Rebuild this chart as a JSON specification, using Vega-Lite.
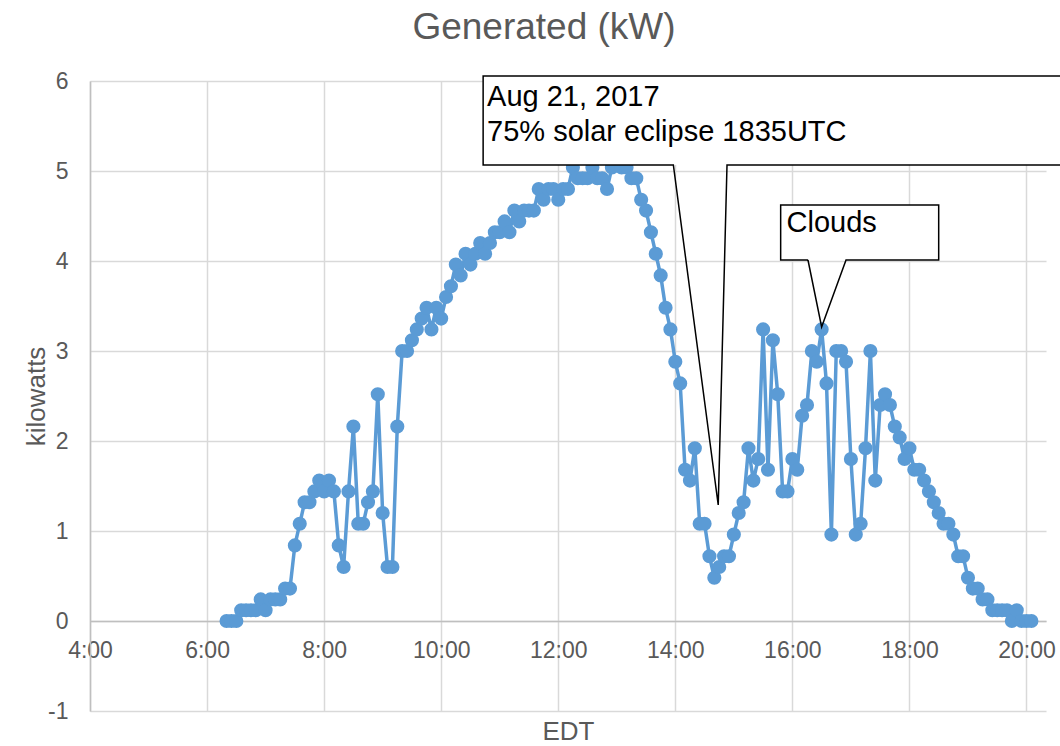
{
  "$schema": "https://vega.github.io/schema/vega-lite/v6.json",
  "width": 956,
  "height": 630,
  "autosize": {"type": "none"},
  "padding": {"left": 90, "top": 81, "right": 14, "bottom": 35},
  "background": "white",
  "config": {"view": {"stroke": null}, "font": "Liberation Sans"},
  "title": {"text": "Generated (kW)", "fontSize": 37, "font": "Liberation Sans", "color": "#595959", "fontWeight": "normal", "anchor": "middle", "frame": "group", "baseline": "alphabetic", "offset": -6, "dx": -24},
  "datasets": {
    "gen": [
      {"t": "2017-08-21T06:20", "kw": 0}, {"t": "2017-08-21T06:25", "kw": 0}, {"t": "2017-08-21T06:30", "kw": 0},
      {"t": "2017-08-21T06:35", "kw": 0.12}, {"t": "2017-08-21T06:40", "kw": 0.12}, {"t": "2017-08-21T06:45", "kw": 0.12},
      {"t": "2017-08-21T06:50", "kw": 0.12}, {"t": "2017-08-21T06:55", "kw": 0.24}, {"t": "2017-08-21T07:00", "kw": 0.12},
      {"t": "2017-08-21T07:05", "kw": 0.24}, {"t": "2017-08-21T07:10", "kw": 0.24}, {"t": "2017-08-21T07:15", "kw": 0.24},
      {"t": "2017-08-21T07:20", "kw": 0.36}, {"t": "2017-08-21T07:25", "kw": 0.36}, {"t": "2017-08-21T07:30", "kw": 0.84},
      {"t": "2017-08-21T07:35", "kw": 1.08}, {"t": "2017-08-21T07:40", "kw": 1.32}, {"t": "2017-08-21T07:45", "kw": 1.32},
      {"t": "2017-08-21T07:50", "kw": 1.44}, {"t": "2017-08-21T07:55", "kw": 1.56}, {"t": "2017-08-21T08:00", "kw": 1.44},
      {"t": "2017-08-21T08:05", "kw": 1.56}, {"t": "2017-08-21T08:10", "kw": 1.44}, {"t": "2017-08-21T08:15", "kw": 0.84},
      {"t": "2017-08-21T08:20", "kw": 0.6}, {"t": "2017-08-21T08:25", "kw": 1.44}, {"t": "2017-08-21T08:30", "kw": 2.16},
      {"t": "2017-08-21T08:35", "kw": 1.08}, {"t": "2017-08-21T08:40", "kw": 1.08}, {"t": "2017-08-21T08:45", "kw": 1.32},
      {"t": "2017-08-21T08:50", "kw": 1.44}, {"t": "2017-08-21T08:55", "kw": 2.52}, {"t": "2017-08-21T09:00", "kw": 1.2},
      {"t": "2017-08-21T09:05", "kw": 0.6}, {"t": "2017-08-21T09:10", "kw": 0.6}, {"t": "2017-08-21T09:15", "kw": 2.16},
      {"t": "2017-08-21T09:20", "kw": 3.0}, {"t": "2017-08-21T09:25", "kw": 3.0}, {"t": "2017-08-21T09:30", "kw": 3.12},
      {"t": "2017-08-21T09:35", "kw": 3.24}, {"t": "2017-08-21T09:40", "kw": 3.36}, {"t": "2017-08-21T09:45", "kw": 3.48},
      {"t": "2017-08-21T09:50", "kw": 3.24}, {"t": "2017-08-21T09:55", "kw": 3.48}, {"t": "2017-08-21T10:00", "kw": 3.36},
      {"t": "2017-08-21T10:05", "kw": 3.6}, {"t": "2017-08-21T10:10", "kw": 3.72}, {"t": "2017-08-21T10:15", "kw": 3.96},
      {"t": "2017-08-21T10:20", "kw": 3.84}, {"t": "2017-08-21T10:25", "kw": 4.08}, {"t": "2017-08-21T10:30", "kw": 3.96},
      {"t": "2017-08-21T10:35", "kw": 4.08}, {"t": "2017-08-21T10:40", "kw": 4.2}, {"t": "2017-08-21T10:45", "kw": 4.08},
      {"t": "2017-08-21T10:50", "kw": 4.2}, {"t": "2017-08-21T10:55", "kw": 4.32}, {"t": "2017-08-21T11:00", "kw": 4.32},
      {"t": "2017-08-21T11:05", "kw": 4.44}, {"t": "2017-08-21T11:10", "kw": 4.32}, {"t": "2017-08-21T11:15", "kw": 4.56},
      {"t": "2017-08-21T11:20", "kw": 4.44}, {"t": "2017-08-21T11:25", "kw": 4.56}, {"t": "2017-08-21T11:30", "kw": 4.56},
      {"t": "2017-08-21T11:35", "kw": 4.56}, {"t": "2017-08-21T11:40", "kw": 4.8}, {"t": "2017-08-21T11:45", "kw": 4.68},
      {"t": "2017-08-21T11:50", "kw": 4.8}, {"t": "2017-08-21T11:55", "kw": 4.8}, {"t": "2017-08-21T12:00", "kw": 4.68},
      {"t": "2017-08-21T12:05", "kw": 4.8}, {"t": "2017-08-21T12:10", "kw": 4.8}, {"t": "2017-08-21T12:15", "kw": 5.04},
      {"t": "2017-08-21T12:20", "kw": 4.92}, {"t": "2017-08-21T12:25", "kw": 4.92}, {"t": "2017-08-21T12:30", "kw": 4.92},
      {"t": "2017-08-21T12:35", "kw": 5.04}, {"t": "2017-08-21T12:40", "kw": 4.92}, {"t": "2017-08-21T12:45", "kw": 4.92},
      {"t": "2017-08-21T12:50", "kw": 4.8}, {"t": "2017-08-21T12:55", "kw": 5.04}, {"t": "2017-08-21T13:00", "kw": 5.16},
      {"t": "2017-08-21T13:05", "kw": 5.04}, {"t": "2017-08-21T13:10", "kw": 5.04}, {"t": "2017-08-21T13:15", "kw": 4.92},
      {"t": "2017-08-21T13:20", "kw": 4.92}, {"t": "2017-08-21T13:25", "kw": 4.68}, {"t": "2017-08-21T13:30", "kw": 4.56},
      {"t": "2017-08-21T13:35", "kw": 4.32}, {"t": "2017-08-21T13:40", "kw": 4.08}, {"t": "2017-08-21T13:45", "kw": 3.84},
      {"t": "2017-08-21T13:50", "kw": 3.48}, {"t": "2017-08-21T13:55", "kw": 3.24}, {"t": "2017-08-21T14:00", "kw": 2.88},
      {"t": "2017-08-21T14:05", "kw": 2.64}, {"t": "2017-08-21T14:10", "kw": 1.68}, {"t": "2017-08-21T14:15", "kw": 1.56},
      {"t": "2017-08-21T14:20", "kw": 1.92}, {"t": "2017-08-21T14:25", "kw": 1.08}, {"t": "2017-08-21T14:30", "kw": 1.08},
      {"t": "2017-08-21T14:35", "kw": 0.72}, {"t": "2017-08-21T14:40", "kw": 0.48}, {"t": "2017-08-21T14:45", "kw": 0.6},
      {"t": "2017-08-21T14:50", "kw": 0.72}, {"t": "2017-08-21T14:55", "kw": 0.72}, {"t": "2017-08-21T15:00", "kw": 0.96},
      {"t": "2017-08-21T15:05", "kw": 1.2}, {"t": "2017-08-21T15:10", "kw": 1.32}, {"t": "2017-08-21T15:15", "kw": 1.92},
      {"t": "2017-08-21T15:20", "kw": 1.56}, {"t": "2017-08-21T15:25", "kw": 1.8}, {"t": "2017-08-21T15:30", "kw": 3.24},
      {"t": "2017-08-21T15:35", "kw": 1.68}, {"t": "2017-08-21T15:40", "kw": 3.12}, {"t": "2017-08-21T15:45", "kw": 2.52},
      {"t": "2017-08-21T15:50", "kw": 1.44}, {"t": "2017-08-21T15:55", "kw": 1.44}, {"t": "2017-08-21T16:00", "kw": 1.8},
      {"t": "2017-08-21T16:05", "kw": 1.68}, {"t": "2017-08-21T16:10", "kw": 2.28}, {"t": "2017-08-21T16:15", "kw": 2.4},
      {"t": "2017-08-21T16:20", "kw": 3.0}, {"t": "2017-08-21T16:25", "kw": 2.88}, {"t": "2017-08-21T16:30", "kw": 3.24},
      {"t": "2017-08-21T16:35", "kw": 2.64}, {"t": "2017-08-21T16:40", "kw": 0.96}, {"t": "2017-08-21T16:45", "kw": 3.0},
      {"t": "2017-08-21T16:50", "kw": 3.0}, {"t": "2017-08-21T16:55", "kw": 2.88}, {"t": "2017-08-21T17:00", "kw": 1.8},
      {"t": "2017-08-21T17:05", "kw": 0.96}, {"t": "2017-08-21T17:10", "kw": 1.08}, {"t": "2017-08-21T17:15", "kw": 1.92},
      {"t": "2017-08-21T17:20", "kw": 3.0}, {"t": "2017-08-21T17:25", "kw": 1.56}, {"t": "2017-08-21T17:30", "kw": 2.4},
      {"t": "2017-08-21T17:35", "kw": 2.52}, {"t": "2017-08-21T17:40", "kw": 2.4}, {"t": "2017-08-21T17:45", "kw": 2.16},
      {"t": "2017-08-21T17:50", "kw": 2.04}, {"t": "2017-08-21T17:55", "kw": 1.8}, {"t": "2017-08-21T18:00", "kw": 1.92},
      {"t": "2017-08-21T18:05", "kw": 1.68}, {"t": "2017-08-21T18:10", "kw": 1.68}, {"t": "2017-08-21T18:15", "kw": 1.56},
      {"t": "2017-08-21T18:20", "kw": 1.44}, {"t": "2017-08-21T18:25", "kw": 1.32}, {"t": "2017-08-21T18:30", "kw": 1.2},
      {"t": "2017-08-21T18:35", "kw": 1.08}, {"t": "2017-08-21T18:40", "kw": 1.08}, {"t": "2017-08-21T18:45", "kw": 0.96},
      {"t": "2017-08-21T18:50", "kw": 0.72}, {"t": "2017-08-21T18:55", "kw": 0.72}, {"t": "2017-08-21T19:00", "kw": 0.48},
      {"t": "2017-08-21T19:05", "kw": 0.36}, {"t": "2017-08-21T19:10", "kw": 0.36}, {"t": "2017-08-21T19:15", "kw": 0.24},
      {"t": "2017-08-21T19:20", "kw": 0.24}, {"t": "2017-08-21T19:25", "kw": 0.12}, {"t": "2017-08-21T19:30", "kw": 0.12},
      {"t": "2017-08-21T19:35", "kw": 0.12}, {"t": "2017-08-21T19:40", "kw": 0.12}, {"t": "2017-08-21T19:45", "kw": 0},
      {"t": "2017-08-21T19:50", "kw": 0.12}, {"t": "2017-08-21T19:55", "kw": 0}, {"t": "2017-08-21T20:00", "kw": 0},
      {"t": "2017-08-21T20:05", "kw": 0}
    ],
    "boxes": [
      {"g": "eclipse", "x1": "2017-08-21T10:43", "x2": "2017-08-21T21:00", "y1": 5.067, "y2": 6.056},
      {"g": "clouds", "x1": "2017-08-21T15:48", "x2": "2017-08-21T18:30", "y1": 4.011, "y2": 4.622}
    ],
    "outlines": [
      {"g": "eclipse", "o": 0, "x": "2017-08-21T21:00", "y": 6.056},
      {"g": "eclipse", "o": 1, "x": "2017-08-21T10:43", "y": 6.056},
      {"g": "eclipse", "o": 2, "x": "2017-08-21T10:43", "y": 5.067},
      {"g": "eclipse", "o": 3, "x": "2017-08-21T13:58", "y": 5.067},
      {"g": "eclipse", "o": 4, "x": "2017-08-21T14:44", "y": 1.289},
      {"g": "eclipse", "o": 5, "x": "2017-08-21T14:53", "y": 5.067},
      {"g": "eclipse", "o": 6, "x": "2017-08-21T21:00", "y": 5.067},
      {"g": "clouds", "o": 0, "x": "2017-08-21T16:16", "y": 4.011},
      {"g": "clouds", "o": 1, "x": "2017-08-21T15:48", "y": 4.011},
      {"g": "clouds", "o": 2, "x": "2017-08-21T15:48", "y": 4.622},
      {"g": "clouds", "o": 3, "x": "2017-08-21T18:30", "y": 4.622},
      {"g": "clouds", "o": 4, "x": "2017-08-21T18:30", "y": 4.011},
      {"g": "clouds", "o": 5, "x": "2017-08-21T16:55", "y": 4.011},
      {"g": "clouds", "o": 6, "x": "2017-08-21T16:30", "y": 3.267},
      {"g": "clouds", "o": 7, "x": "2017-08-21T16:16", "y": 4.011}
    ],
    "labels": [
      {"x": "2017-08-21T10:47", "y": 5.722, "label": "Aug 21, 2017"},
      {"x": "2017-08-21T10:47", "y": 5.333, "label": "75% solar eclipse 1835UTC"},
      {"x": "2017-08-21T15:54", "y": 4.322, "label": "Clouds"}
    ]
  },
  "layer": [
    {
      "data": {"name": "gen"},
      "mark": {"type": "line", "color": "#5b9bd5", "strokeWidth": 3.5, "point": {"filled": true, "size": 200, "color": "#5b9bd5", "opacity": 1}},
      "encoding": {
        "x": {"field": "t", "type": "temporal", "title": "EDT",
          "scale": {"domain": [{"year": 2017, "month": 8, "date": 21, "hours": 4}, {"year": 2017, "month": 8, "date": 21, "hours": 20, "minutes": 20}], "nice": false},
          "axis": {"title": "EDT", "format": "%-H:%M",
            "values": [{"year": 2017, "month": 8, "date": 21, "hours": 4}, {"year": 2017, "month": 8, "date": 21, "hours": 6}, {"year": 2017, "month": 8, "date": 21, "hours": 8}, {"year": 2017, "month": 8, "date": 21, "hours": 10}, {"year": 2017, "month": 8, "date": 21, "hours": 12}, {"year": 2017, "month": 8, "date": 21, "hours": 14}, {"year": 2017, "month": 8, "date": 21, "hours": 16}, {"year": 2017, "month": 8, "date": 21, "hours": 18}, {"year": 2017, "month": 8, "date": 21, "hours": 20}],
            "grid": true, "gridColor": "#d9d9d9", "gridWidth": 1.5, "ticks": false, "tickSize": 0,
            "domainColor": "#bfbfbf", "domainWidth": 1.5, "offset": -90,
            "labelFontSize": 23, "labelColor": "#595959", "labelPadding": 18, "labelFlush": false, "labelOverlap": false, "labelFont": "Liberation Sans",
            "titleFontSize": 26, "titleColor": "#595959", "titleFontWeight": "normal", "titleFont": "Liberation Sans", "titleY": 97}},
        "y": {"field": "kw", "type": "quantitative", "title": "kilowatts",
          "scale": {"domain": [-1, 6], "nice": false, "zero": false},
          "axis": {"title": "kilowatts", "values": [-1, 0, 1, 2, 3, 4, 5, 6],
            "labelExpr": "datum.value < 0 ? '-' + toString(-datum.value) : toString(datum.value)",
            "grid": true, "gridColor": "#d9d9d9", "gridWidth": 1.5, "ticks": false, "tickSize": 0,
            "domainColor": "#bfbfbf", "domainWidth": 1.5,
            "labelFontSize": 23, "labelColor": "#595959", "labelPadding": 22, "labelFont": "Liberation Sans",
            "titleFontSize": 26, "titleColor": "#595959", "titleFontWeight": "normal", "titleFont": "Liberation Sans", "titleX": -46, "titleBaseline": "alphabetic"}}
      }
    },
    {
      "data": {"name": "boxes"},
      "mark": {"type": "rect", "fill": "white", "clip": false},
      "encoding": {
        "x": {"field": "x1", "type": "temporal", "title": "EDT"},
        "x2": {"field": "x2"},
        "y": {"field": "y1", "type": "quantitative", "title": "kilowatts"},
        "y2": {"field": "y2"}
      }
    },
    {
      "data": {"name": "outlines"},
      "mark": {"type": "line", "color": "black", "strokeWidth": 1.5, "clip": false, "strokeJoin": "miter"},
      "encoding": {
        "x": {"field": "x", "type": "temporal", "title": "EDT"},
        "y": {"field": "y", "type": "quantitative", "title": "kilowatts"},
        "detail": {"field": "g"},
        "order": {"field": "o", "type": "quantitative"}
      }
    },
    {
      "data": {"name": "labels"},
      "mark": {"type": "text", "align": "left", "baseline": "alphabetic", "fontSize": 29, "font": "Liberation Sans", "color": "black", "clip": false},
      "encoding": {
        "x": {"field": "x", "type": "temporal", "title": "EDT"},
        "y": {"field": "y", "type": "quantitative", "title": "kilowatts"},
        "text": {"field": "label"}
      }
    }
  ]
}
